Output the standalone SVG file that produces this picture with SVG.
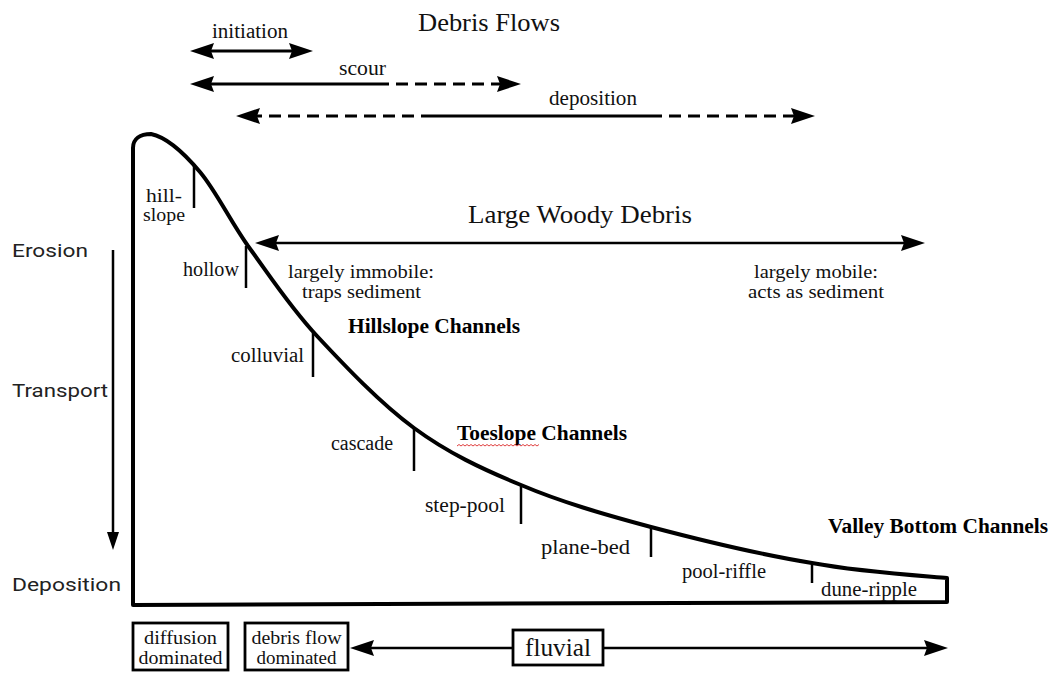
<svg xmlns="http://www.w3.org/2000/svg" width="1052" height="673" viewBox="0 0 1052 673">
<style>
.s{font-family:"Liberation Serif","Times New Roman",serif;fill:#111}
.b{font-family:"Liberation Serif","Times New Roman",serif;font-weight:bold;fill:#000}
.a{font-family:Roboto,"Liberation Sans",sans-serif;fill:#222}
.ln{stroke:#000;fill:none}
.tk{stroke:#000;stroke-width:2.5;fill:none}
.bx{stroke:#000;stroke-width:2.8;fill:#fff}
</style>
<defs>
<marker id="ah" viewBox="0 0 24 16" refX="10" refY="8" markerWidth="24" markerHeight="16" markerUnits="userSpaceOnUse" orient="auto-start-reverse">
<path d="M0,0 L24,8 L0,16 L3,8 Z" fill="#000"/>
</marker>
<marker id="av" viewBox="0 0 18 12" refX="6" refY="6" markerWidth="18" markerHeight="12" markerUnits="userSpaceOnUse" orient="auto">
<path d="M0,0 L18,6 L0,12 Z" fill="#000"/>
</marker>
</defs>
<rect width="1052" height="673" fill="#fff"/>

<g id="profile">
<path class="ln" stroke-width="4" stroke-linejoin="round" d="M133,605 L133,148 C133,139 140,134 151,134 C166,137 184,153 200,172 C216,191 229,219 248,246 C268,273 289,306 317,336 C345,366 380,403 414,428 C448,453 482,469 521,485 C561,502 603,514 651,527 C700,540 763,555 812,563 C861,572 925,576 947,578 L947,602 Z"/>
<line class="tk" x1="194" y1="164" x2="194" y2="208"/>
<line class="tk" x1="246" y1="246" x2="246" y2="288"/>
<line class="tk" x1="313" y1="333" x2="313" y2="377"/>
<line class="tk" x1="414" y1="428" x2="414" y2="471"/>
<line class="tk" x1="521" y1="485" x2="521" y2="524"/>
<line class="tk" x1="651" y1="527" x2="651" y2="557"/>
<line class="tk" x1="812" y1="563" x2="812" y2="583"/>
</g>

<g id="unit-labels">
<text class="s" font-size="18" x="146" y="202" textLength="36" lengthAdjust="spacingAndGlyphs">hill-</text>
<text class="s" font-size="18" x="143" y="221" textLength="42" lengthAdjust="spacingAndGlyphs">slope</text>
<text class="s" font-size="20" x="183" y="276" textLength="56" lengthAdjust="spacingAndGlyphs">hollow</text>
<text class="s" font-size="20" x="231" y="362" textLength="73" lengthAdjust="spacingAndGlyphs">colluvial</text>
<text class="s" font-size="20" x="331" y="450" textLength="62" lengthAdjust="spacingAndGlyphs">cascade</text>
<text class="s" font-size="20" x="425" y="512" textLength="80" lengthAdjust="spacingAndGlyphs">step-pool</text>
<text class="s" font-size="20" x="541" y="554" textLength="89" lengthAdjust="spacingAndGlyphs">plane-bed</text>
<text class="s" font-size="20" x="682" y="578" textLength="84" lengthAdjust="spacingAndGlyphs">pool-riffle</text>
<text class="s" font-size="20" x="821" y="596" textLength="96" lengthAdjust="spacingAndGlyphs">dune-ripple</text>
</g>

<g id="channel-labels">
<text class="b" font-size="20" x="348" y="333" textLength="172" lengthAdjust="spacingAndGlyphs">Hillslope Channels</text>
<text class="b" font-size="20" x="457" y="440" textLength="170" lengthAdjust="spacingAndGlyphs">Toeslope Channels</text>
<path d="M457,446 l2,-1.5 l2,1.5 l2,-1.5 l2,1.5 l2,-1.5 l2,1.5 l2,-1.5 l2,1.5 l2,-1.5 l2,1.5 l2,-1.5 l2,1.5 l2,-1.5 l2,1.5 l2,-1.5 l2,1.5 l2,-1.5 l2,1.5 l2,-1.5 l2,1.5 l2,-1.5 l2,1.5 l2,-1.5 l2,1.5 l2,-1.5 l2,1.5 l2,-1.5 l2,1.5 l2,-1.5 l2,1.5 l2,-1.5 l2,1.5 l2,-1.5 l2,1.5 l2,-1.5 l2,1.5 l2,-1.5 l2,1.5 l2,-1.5 l2,1.5 l2,-1.5" fill="none" stroke="#e04040" stroke-width="1"/>
<text class="b" font-size="20" x="828" y="533" textLength="220" lengthAdjust="spacingAndGlyphs">Valley Bottom Channels</text>
</g>

<g id="process-axis">
<text class="a" font-size="19" x="12" y="257" textLength="76" lengthAdjust="spacingAndGlyphs">Erosion</text>
<text class="a" font-size="19" x="12" y="397" textLength="96" lengthAdjust="spacingAndGlyphs">Transport</text>
<text class="a" font-size="19" x="12" y="591" textLength="109" lengthAdjust="spacingAndGlyphs">Deposition</text>
</g>

<g id="debris-flows">
<text class="s" font-size="26" x="418" y="31" textLength="142" lengthAdjust="spacingAndGlyphs">Debris Flows</text>
<text class="s" font-size="20" x="212" y="38" textLength="76" lengthAdjust="spacingAndGlyphs">initiation</text>
<text class="s" font-size="20" x="339" y="75" textLength="47" lengthAdjust="spacingAndGlyphs">scour</text>
<text class="s" font-size="20" x="549" y="105" textLength="88" lengthAdjust="spacingAndGlyphs">deposition</text>
</g>

<g id="large-woody-debris">
<text class="s" font-size="26" x="468" y="223" textLength="224" lengthAdjust="spacingAndGlyphs">Large Woody Debris</text>
<text class="s" font-size="18" x="288" y="278" textLength="146" lengthAdjust="spacingAndGlyphs">largely immobile:</text>
<text class="s" font-size="18" x="302" y="298" textLength="119" lengthAdjust="spacingAndGlyphs">traps sediment</text>
<text class="s" font-size="18" x="754" y="278" textLength="124" lengthAdjust="spacingAndGlyphs">largely mobile:</text>
<text class="s" font-size="18" x="748" y="298" textLength="136" lengthAdjust="spacingAndGlyphs">acts as sediment</text>
</g>

<g id="connectors">
<line class="ln" stroke-width="3" x1="204" y1="51" x2="299" y2="51" marker-start="url(#ah)" marker-end="url(#ah)"/>
<line class="ln" stroke-width="3" x1="204" y1="84" x2="377" y2="84" marker-start="url(#ah)"/>
<line class="ln" stroke-width="3" x1="377" y1="84" x2="507" y2="84" stroke-dasharray="12 7" marker-end="url(#ah)"/>
<line class="ln" stroke-width="3" x1="250" y1="116" x2="425" y2="116" stroke-dasharray="12 7" marker-start="url(#ah)"/>
<line class="ln" stroke-width="3" x1="425" y1="116" x2="650" y2="116"/>
<line class="ln" stroke-width="3" x1="650" y1="116" x2="801" y2="116" stroke-dasharray="12 7" marker-end="url(#ah)"/>
<line class="ln" stroke-width="2.5" x1="269" y1="243" x2="911" y2="243" marker-start="url(#ah)" marker-end="url(#ah)"/>
<line class="ln" stroke-width="2.5" x1="113" y1="250" x2="113" y2="538" marker-end="url(#av)"/>
<line class="ln" stroke-width="2.5" x1="364" y1="648" x2="934" y2="648" marker-start="url(#ah)" marker-end="url(#ah)"/>
</g>

<g id="diffusion-box">
<rect class="bx" x="133" y="623" width="95" height="47"/>
<text class="s" font-size="18" x="180.5" y="644" text-anchor="middle" textLength="73" lengthAdjust="spacingAndGlyphs">diffusion</text>
<text class="s" font-size="18" x="180.5" y="664" text-anchor="middle" textLength="84" lengthAdjust="spacingAndGlyphs">dominated</text>
</g>
<g id="debris-flow-box">
<rect class="bx" x="245" y="623" width="103" height="47"/>
<text class="s" font-size="18" x="296.5" y="644" text-anchor="middle" textLength="90" lengthAdjust="spacingAndGlyphs">debris flow</text>
<text class="s" font-size="18" x="296.5" y="664" text-anchor="middle" textLength="80" lengthAdjust="spacingAndGlyphs">dominated</text>
</g>
<g id="fluvial-box">
<rect class="bx" x="513" y="630" width="90" height="35"/>
<text class="s" font-size="25" x="558" y="656" text-anchor="middle" textLength="66" lengthAdjust="spacingAndGlyphs">fluvial</text>
</g>
</svg>
